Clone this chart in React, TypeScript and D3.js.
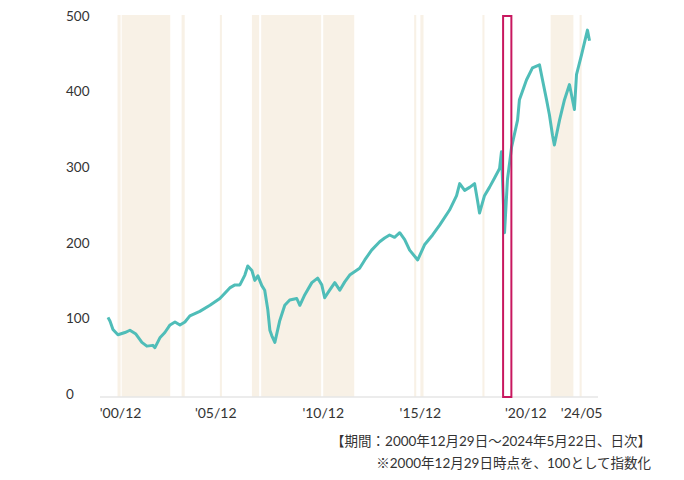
import React, { useEffect, useRef } from 'react';
import * as d3 from 'd3';

// decimal years and index values (aligned pairs)
const years = [
  2000.99, 2001.09, 2001.23, 2001.47, 2001.81, 2002.05, 2002.34, 2002.63, 2002.87, 2003.16,
  2003.26, 2003.5, 2003.74, 2003.99, 2004.23, 2004.47, 2004.71, 2004.95, 2005.19, 2005.43,
  2005.92, 2006.4, 2006.88, 2007.13, 2007.37, 2007.61, 2007.75, 2007.95, 2008.09, 2008.24,
  2008.43, 2008.57, 2008.72, 2008.82, 2008.91, 2009.06, 2009.3, 2009.54, 2009.78, 2010.12,
  2010.27, 2010.51, 2010.85, 2011.13, 2011.33, 2011.47, 2011.71, 2011.96, 2012.2, 2012.44,
  2012.68, 2013.16, 2013.41, 2013.74, 2014.13, 2014.37, 2014.61, 2014.85, 2015.1, 2015.34,
  2015.58, 2015.97, 2016.3, 2016.69, 2017.03, 2017.51, 2017.85, 2018.0, 2018.24, 2018.48,
  2018.72, 2018.86, 2018.96, 2019.2, 2019.44, 2019.68, 2019.93, 2020.02, 2020.17, 2020.31,
  2020.51, 2020.8, 2020.89, 2021.23, 2021.52, 2021.86, 2022.0, 2022.2, 2022.34, 2022.49,
  2022.58, 2022.83, 2023.07, 2023.31, 2023.55, 2023.65, 2023.89, 2024.18, 2024.28,
];
const values = [
  100, 95, 84, 77, 80, 83, 78, 67, 62, 63,
  60, 73, 80, 90, 94, 90, 94, 102, 105, 108,
  116, 125, 139, 143, 143, 156, 168, 162, 149, 155,
  142, 136, 110, 83, 76, 67, 96, 116, 123, 125,
  116, 130, 146, 152, 143, 126, 136, 146, 136, 147,
  156, 165, 176, 189, 200, 205, 209, 206, 212, 203,
  189, 176, 196, 209, 222, 242, 261, 277, 268, 272,
  277, 255, 238, 261, 272, 284, 297, 319, 212, 282,
  325, 361, 388, 414, 430, 434, 415, 388, 368, 341,
  328, 361, 388, 408, 375, 421, 447, 480, 466,
];
const bands: [number, number][] = [
  [2001.45, 2001.6], [2001.65, 2004.0], [2004.55, 2004.7], [2006.4, 2006.5], [2007.95, 2008.3],
  [2008.4, 2011.3], [2011.4, 2012.9], [2015.8, 2015.9], [2016.1, 2016.25], [2019.1, 2019.2],
  [2022.4, 2023.5], [2023.8, 2023.9],
];
const highlight: [number, number] = [2020.1, 2020.5];
const yTicks = [0, 100, 200, 300, 400, 500];
const xTicks: [number, string][] = [
  [2001.6, "'00/12"], [2006.2, "'05/12"], [2011.4, "'10/12"], [2016.1, "'15/12"], [2021.2, "'20/12"], [2023.9, "'24/05"],
];
const notes = ['【期間：2000年12月29日～2024年5月22日、日次】', '※2000年12月29日時点を、100として指数化'];

const toDate = (y: number) => new Date(Date.UTC(2000, 0, 1) + (y - 2000) * 365.25 * 864e5);

export default function App() {
  const ref = useRef<SVGSVGElement>(null);
  useEffect(() => {
    const svg = d3.select(ref.current);
    svg.selectAll('*').remove();
    const x = d3.scaleUtc().domain([toDate(2000.99), toDate(2024.4)]).range([100, 584]);
    const y = d3.scaleLinear().domain([0, 500]).range([385, 7]);
    const font = 'Lato, "Noto Sans CJK JP", sans-serif';

    svg.append('g').selectAll('rect').data(bands).join('rect')
      .attr('x', d => x(toDate(d[0]))).attr('width', d => x(toDate(d[1])) - x(toDate(d[0])))
      .attr('y', y(500)).attr('height', y(0) - y(500) + 4).attr('fill', '#f8f1e6');

    svg.append('line').attr('x1', 92).attr('x2', 590).attr('y1', y(0) + 4).attr('y2', y(0) + 4)
      .attr('stroke', '#e6e6e6').attr('stroke-width', 1.5);

    svg.append('g').selectAll('text').data(yTicks).join('text')
      .attr('x', 58).attr('y', d => y(d) + 1).attr('dy', '0.35em').attr('font-family', font)
      .attr('font-size', 13.5).attr('fill', '#333').text(d => d);

    svg.append('g').selectAll('text').data(xTicks).join('text')
      .attr('x', d => x(toDate(d[0]))).attr('y', 410).attr('text-anchor', 'middle').attr('font-family', font)
      .attr('font-size', 14).attr('fill', '#333').text(d => d[1]);

    const pts = years.map((yr, i) => [toDate(yr), values[i]] as [Date, number]);
    svg.append('path').datum(pts)
      .attr('d', d3.line<[Date, number]>().x(d => x(d[0])).y(d => y(d[1])))
      .attr('fill', 'none').attr('stroke', '#4fbdb8').attr('stroke-width', 3).attr('stroke-linejoin', 'round');

    svg.append('rect').attr('x', x(toDate(highlight[0]))).attr('width', x(toDate(highlight[1])) - x(toDate(highlight[0])))
      .attr('y', y(500) + 1).attr('height', y(0) - y(500) + 3).attr('fill', 'none')
      .attr('stroke', '#c8185f').attr('stroke-width', 2);

    svg.append('g').selectAll('text').data(notes).join('text')
      .attr('x', 643).attr('y', (d, i) => 438 + i * 22).attr('text-anchor', 'end')
      .attr('font-family', font).attr('font-size', 13.5).attr('fill', '#333').text(d => d);
  }, []);
  return <svg ref={ref} width={668} height={464} style={{ display: 'block' }} />;
}
